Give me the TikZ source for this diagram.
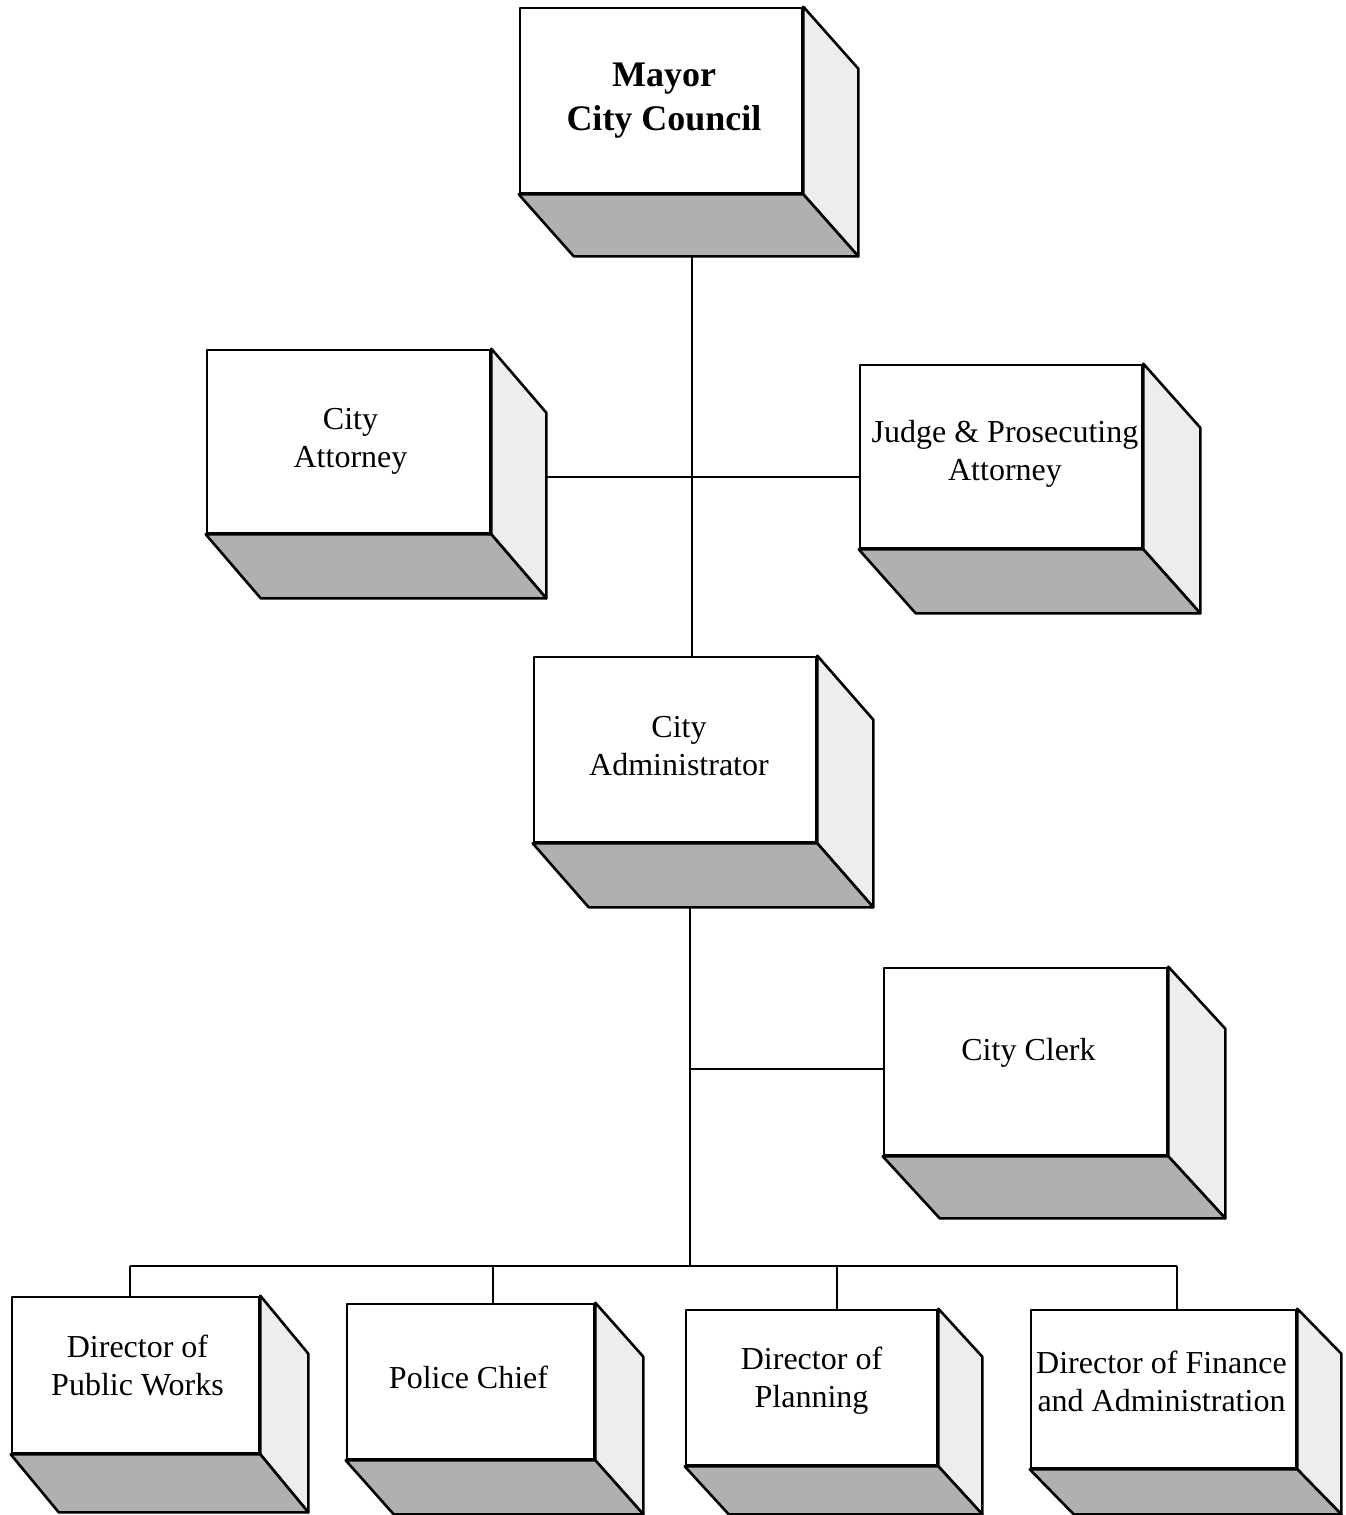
\documentclass[tikz,border=0pt]{standalone}
\usepackage{fontspec}
\setmainfont{Liberation Serif}
\usetikzlibrary{calc}
\tikzset{
 front/.style={draw, fill=white, line width=2.6pt, line join=round, inner sep=0pt},
 boxtext/.style={inner sep=0pt, align=center, font=\fontsize{32}{38}\selectfont},
 boldfront/.style={font=\bfseries\fontsize{36}{44}\selectfont},
 sideface/.style={draw, fill=black!7, line width=2.6pt, line join=round},
 baseface/.style={draw, fill=black!31, line width=2.6pt, line join=round},
 link/.style={line width=2pt},
}
\newcommand\orgbox[9][]{%
 \node[front, minimum width={(#5-#3)*1pt}, minimum height={(#6-#4)*1pt}] (#2) at ({(#3+#5)/2},{(#4+#6)/2}) {};
 \node[boxtext,#1] (#2-text) at (#2.center) {#9};
 \coordinate (#2-tr) at ($(#2.north east)+(#7pt,-#8pt)$);
 \coordinate (#2-br) at ($(#2.south east)+(#7pt,-#8pt)$);
 \coordinate (#2-bl) at ($(#2.south west)+(#7pt,-#8pt)$);
 \draw[sideface] (#2.north east) -- (#2-tr) -- (#2-br) -- (#2.south east) -- cycle;
 \draw[baseface] (#2.south west) -- (#2.south east) -- (#2-br) -- (#2-bl) -- cycle;
}
\begin{document}
\begin{tikzpicture}[x=1pt,y=-1pt]
\useasboundingbox[fill=white] (0,0) rectangle (1345,1515);
\orgbox[boldfront,xshift=3pt]{mayor}{520}{8}{802}{193}{55}{62}{Mayor\\City Council}
\orgbox[xshift=2pt]{att}{207}{350}{490}{533}{55}{64}{City\\Attorney}
\orgbox[yshift=3pt,xshift=4pt]{judge}{860}{365}{1142}{548}{57}{64}{Judge \& Prosecuting\\Attorney}
\orgbox[yshift=3pt,xshift=4pt]{admin}{534}{657}{816}{842}{56}{64}{City\\Administrator}
\orgbox[yshift=9pt,xshift=3pt]{clerk}{884}{968}{1167}{1155}{57}{62}{City Clerk}
\orgbox[yshift=10pt,xshift=2pt]{pw}{12}{1297}{259}{1453}{48}{58}{Director of\\Public Works}
\orgbox[yshift=4pt,xshift=-2pt]{police}{347}{1304}{594}{1459}{48}{54}{Police Chief}
\orgbox[yshift=7pt]{plan}{686}{1310}{937}{1465}{44}{48}{Director of\\Planning}
\orgbox[yshift=8pt,xshift=-2pt]{fin}{1031}{1310}{1296}{1468}{44}{45}{Director of Finance\\and Administration}
% connectors
\coordinate (s1) at (692,477);
\draw[link] (s1 |- mayor-br) -- (s1 |- admin.north);
\draw[link] (att-br |- s1) -- (judge.west |- s1);
\coordinate (s2) at (690,1069);
\coordinate (bus) at (690,1266);
\draw[link] (s2 |- admin-br) -- (bus);
\draw[link] (s2) -- (clerk.west |- s2);
\coordinate (d1) at (130,1266);
\coordinate (d2) at (493,1266);
\coordinate (d3) at (837,1266);
\coordinate (d4) at (1177,1266);
\draw[link] (d1) -- (d4);
\draw[link] (d1) -- (d1 |- pw.north);
\draw[link] (d2) -- (d2 |- police.north);
\draw[link] (d3) -- (d3 |- plan.north);
\draw[link] (d4) -- (d4 |- fin.north);
\end{tikzpicture}
\end{document}
